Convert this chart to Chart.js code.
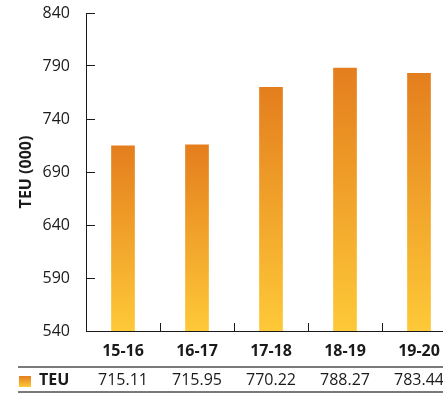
<!DOCTYPE html>
<html lang="en">
  <head>
    <meta charset="utf-8" />
    <title>TEU by Year</title>
    <style>
      body { margin: 0; background: #fff; }
      #wrap { width: 443px; height: 395px; overflow: hidden; }
    </style>
  </head>
  <body>
    <div id="wrap">
      <canvas id="canvas" width="456" height="395"></canvas>
    </div>

    <script src="https://cdn.jsdelivr.net/npm/chart.js"></script>

    <script>
      const years = ["15-16", "16-17", "17-18", "18-19", "19-20"];
      const teu = [715.11, 715.95, 770.22, 788.27, 783.44];
      const yTicks = [540, 590, 640, 690, 740, 790, 840];

      const FONT = "'Open Sans', Lato, sans-serif";
      const TOP_COLOR = "#e47e1d";
      const BOTTOM_COLOR = "#fec938";

      // vertical orange-to-yellow fill between two pixel rows
      function barGradient(ctx, top, bottom) {
        const g = ctx.createLinearGradient(0, top, 0, bottom);
        g.addColorStop(0, TOP_COLOR);
        g.addColorStop(1, BOTTOM_COLOR);
        return g;
      }

      // data table under the x axis: legend swatch, series name, values
      const tablePlugin = {
        id: "table",
        afterDraw(chart) {
          const ctx = chart.ctx;
          const x = chart.scales.x;
          const rowY = 380;
          ctx.save();
          ctx.strokeStyle = "#7a7a7a";
          ctx.lineWidth = 2;
          [367, 392].forEach((y) => {
            ctx.beginPath();
            ctx.moveTo(18, y);
            ctx.lineTo(chart.width, y);
            ctx.stroke();
          });
          ctx.fillStyle = barGradient(ctx, 376, 387);
          ctx.fillRect(19, 376, 12, 11);
          ctx.fillStyle = "#1a1a1a";
          ctx.textBaseline = "middle";
          ctx.textAlign = "left";
          ctx.font = "bold 16px " + FONT;
          ctx.fillText("TEU", 39, rowY);
          ctx.font = "16px " + FONT;
          ctx.textAlign = "center";
          teu.forEach((v, i) => {
            ctx.fillText(v.toFixed(2), x.getPixelForValue(i), rowY);
          });
          ctx.restore();
        },
      };

      new Chart(document.getElementById("canvas"), {
        type: "bar",
        data: {
          labels: years,
          datasets: [
            {
              label: "TEU",
              data: teu,
              barPercentage: 0.32,
              categoryPercentage: 1,
              borderWidth: 0,
              backgroundColor(c) {
                const chart = c.chart;
                const area = chart.chartArea;
                if (!area || !chart.scales.y) return TOP_COLOR;
                const top = chart.scales.y.getPixelForValue(c.raw);
                return barGradient(chart.ctx, top, area.bottom);
              },
            },
          ],
        },
        plugins: [tablePlugin],
        options: {
          responsive: false,
          animation: false,
          layout: { padding: { top: 13, bottom: 24, left: 0, right: 0 } },
          plugins: {
            legend: { display: false },
            tooltip: { enabled: false },
          },
          scales: {
            x: {
              afterFit(s) {
                s.height = 40;
                s.paddingLeft = 0;
                s.paddingRight = 0;
              },
              grid: {
                drawOnChartArea: false,
                tickLength: -8,
                color: "#1a1a1a",
                lineWidth: 1,
              },
              border: { color: "#1a1a1a", width: 1 },
              ticks: {
                padding: 19,
                color: "#1a1a1a",
                font: { family: FONT, size: 16, weight: "bold" },
              },
            },
            y: {
              min: 540,
              max: 840,
              afterFit(s) {
                s.width = 86;
                s.paddingTop = 0;
                s.paddingBottom = 0;
              },
              afterBuildTicks(s) {
                s.ticks = yTicks.map((v) => ({ value: v }));
              },
              grid: {
                drawOnChartArea: false,
                tickLength: -9,
                color: "#1a1a1a",
                lineWidth: 1,
              },
              border: { color: "#1a1a1a", width: 1 },
              ticks: {
                padding: 25,
                color: "#1a1a1a",
                font: { family: FONT, size: 16 },
              },
              title: {
                display: true,
                text: "TEU (000)",
                color: "#1a1a1a",
                padding: { top: 17, bottom: 0 },
                font: { family: FONT, size: 16, weight: "bold" },
              },
            },
          },
        },
      });
    </script>
  </body>
</html>
